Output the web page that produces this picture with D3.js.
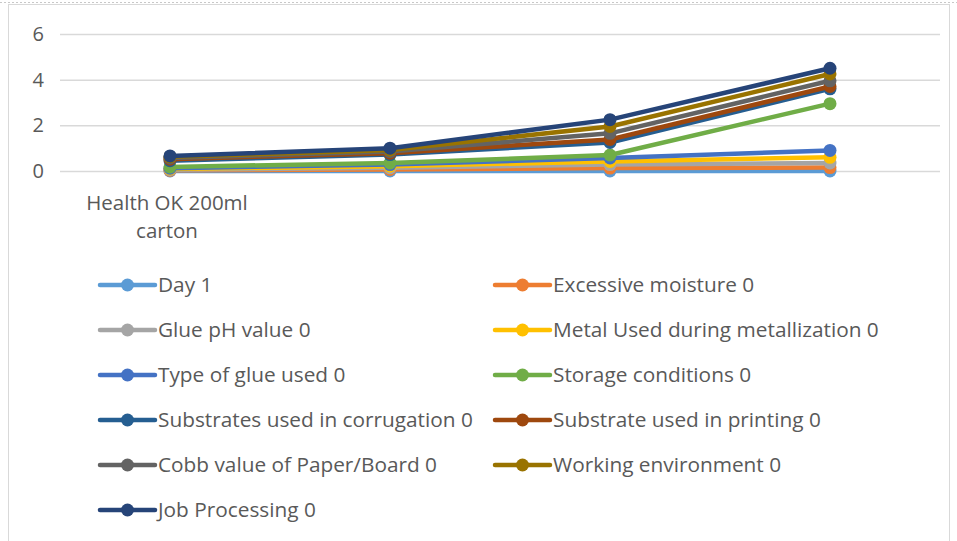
<!DOCTYPE html>
<html>
<head>
<meta charset="utf-8">
<script src="https://cdn.jsdelivr.net/npm/d3@7"></script>
<style>
	body { margin: 0; background: #fff; }
	svg text { font-family: "Open Sans", Lato, sans-serif; fill: #595959; }
</style>
</head>
<body>
<div id="chart-area"></div>
<script>
// Categories (only the first one carries a label)
let categories = ["Health OK 200ml carton", "", "", ""];

// Series names and their increments (stacked line)
let seriesNames = [
	"Day 1", "Excessive moisture 0", "Glue pH value 0", "Metal Used during metallization 0",
	"Type of glue used 0", "Storage conditions 0", "Substrates used in corrugation 0",
	"Substrate used in printing 0", "Cobb value of Paper/Board 0", "Working environment 0",
	"Job Processing 0"
];
let day1 = [0, 0, 0, 0];
let excessiveMoisture = [0.03, 0.07, 0.13, 0.15];
let gluePh = [0.03, 0.07, 0.15, 0.2];
let metalUsed = [0.03, 0.07, 0.14, 0.25];
let typeOfGlue = [0.03, 0.07, 0.15, 0.3];
let storageConditions = [0.06, 0.07, 0.13, 2.05];
let substratesCorrugation = [0.27, 0.37, 0.55, 0.65];
let substratePrinting = [0.07, 0.06, 0.13, 0.1];
let cobbValue = [0.05, 0.07, 0.27, 0.25];
let workingEnvironment = [0.05, 0.07, 0.3, 0.3];
let jobProcessing = [0.04, 0.08, 0.3, 0.25];

let seriesValues = [day1, excessiveMoisture, gluePh, metalUsed, typeOfGlue, storageConditions,
	substratesCorrugation, substratePrinting, cobbValue, workingEnvironment, jobProcessing];

let colors = ["#5B9BD5", "#ED7D31", "#A5A5A5", "#FFC000", "#4472C4", "#70AD47",
	"#255E91", "#9E480E", "#636363", "#997300", "#264478"];

let yTicks = [0, 2, 4, 6];

// SVG
let width = 957, height = 541;
let svg = d3.select("#chart-area")
	.append("svg")
	.attr("width", width)
	.attr("height", height);

// Chart border
svg.append("rect")
	.attr("x", 8.5).attr("y", 4.5)
	.attr("width", 941).attr("height", 545)
	.attr("fill", "none")
	.attr("stroke", "#d9d9d9");
svg.append("line")
	.attr("x1", 0).attr("x2", 957).attr("y1", 2.5).attr("y2", 2.5)
	.attr("stroke", "#c8c8c8")
	.attr("stroke-dasharray", "2,2");

// Table for stacking
let table = categories.map((c, i) => {
	let row = {idx: i};
	seriesNames.forEach((s, j) => row[s] = seriesValues[j][i]);
	return row;
});
let stacked = d3.stack().keys(seriesNames)(table);

// Scales
let x = d3.scaleBand()
	.domain(d3.range(categories.length))
	.range([60, 940]);
let y = d3.scaleLinear()
	.domain([0, 6])
	.range([171, 34]);

// Gridlines + y axis labels
let yAxis = d3.axisLeft(y)
	.tickValues(yTicks)
	.tickFormat(d3.format("d"))
	.tickSize(-880)
	.tickPadding(16);
let yAxisGroup = svg.append("g")
	.attr("transform", "translate(60,0)")
	.call(yAxis);
yAxisGroup.select(".domain").remove();
yAxisGroup.selectAll(".tick line")
	.attr("stroke", "#d9d9d9")
	.attr("stroke-width", 1.5);
yAxisGroup.selectAll(".tick text")
	.attr("font-size", 20)
	.attr("font-family", null)
	.attr("fill", "#595959");

// Category labels (wrapped)
categories.forEach((c, i) => {
	if (!c) return;
	let words = c.split(" ");
	let lines = [words.slice(0, 3).join(" "), words.slice(3).join(" ")];
	let cx = x(i) + x.bandwidth() / 2 - 3;
	let t = svg.append("text")
		.attr("text-anchor", "middle")
		.attr("font-size", 20.5)
		.attr("x", cx)
		.attr("y", 210);
	lines.forEach((l, k) => {
		t.append("tspan")
			.attr("x", cx)
			.attr("dy", k === 0 ? 0 : 28)
			.text(l);
	});
});

// Lines and markers
let line = d3.line()
	.x((d, i) => x(i) + x.bandwidth() / 2)
	.y(d => y(d[1]));

stacked.forEach((s, j) => {
	let g = svg.append("g").attr("class", "series");
	g.append("path")
		.datum(s)
		.attr("fill", "none")
		.attr("stroke", colors[j])
		.attr("stroke-width", 4.5)
		.attr("stroke-linejoin", "round")
		.attr("d", line);
	g.selectAll("circle")
		.data(s)
		.enter()
		.append("circle")
		.attr("cx", (d, i) => x(i) + x.bandwidth() / 2)
		.attr("cy", d => y(d[1]))
		.attr("r", 6.5)
		.attr("fill", colors[j]);
});

// Legend
let legend = svg.append("g");
seriesNames.forEach((s, j) => {
	let col = j % 2, row = Math.floor(j / 2);
	let lx = col === 0 ? 100 : 495;
	let ly = 285 + row * 45;
	legend.append("line")
		.attr("x1", lx).attr("x2", lx + 55)
		.attr("y1", ly).attr("y2", ly)
		.attr("stroke", colors[j])
		.attr("stroke-width", 4.5)
		.attr("stroke-linecap", "round");
	legend.append("circle")
		.attr("cx", lx + 27.5).attr("cy", ly)
		.attr("r", 6.5)
		.attr("fill", colors[j]);
	legend.append("text")
		.attr("x", lx + 58)
		.attr("y", ly)
		.attr("dy", "0.35em")
		.attr("font-size", 20.8)
		.text(s);
});
</script>
</body>
</html>
